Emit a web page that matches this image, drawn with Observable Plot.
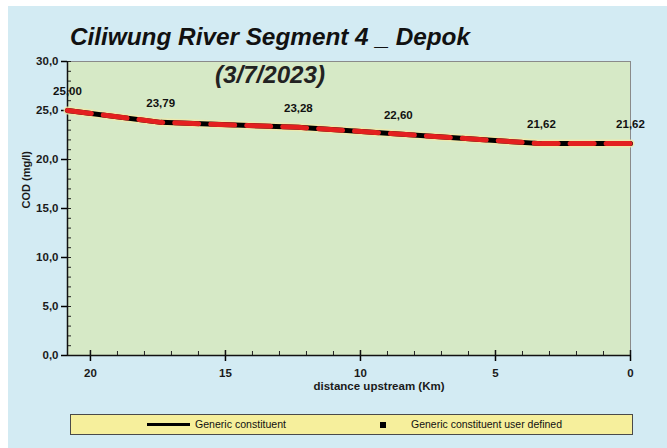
<!DOCTYPE html>
<html>
<head>
<meta charset="utf-8">
<script src="https://cdn.jsdelivr.net/npm/d3@7"></script>
<script src="https://cdn.jsdelivr.net/npm/@observablehq/plot@0.6"></script>
<style>
  html, body { margin: 0; padding: 0; background: #fff; }
  #fig { position: relative; width: 667px; height: 448px; background: #fff; overflow: hidden;
         font-family: "Liberation Sans", Arial, sans-serif; }
  #bg { position: absolute; left: 8px; top: 6px; right: 0; bottom: 0; background: #d3ebf3; }
  #chart { position: absolute; left: 0; top: 0; }
  #title { position: absolute; left: 70px; top: 25px; font-size: 24px; line-height: 24px; font-weight: bold; font-style: italic; color: #111; white-space: nowrap; transform-origin: 0 0; }
  #subtitle { position: absolute; left: 215px; top: 63px; font-size: 24px; line-height: 24px; font-weight: bold; font-style: italic; color: #222; white-space: nowrap; transform-origin: 0 0; }
  #legend { position: absolute; left: 70px; top: 414px; width: 561px; height: 19px; background: #f6ef9c; border: 1.5px solid #4a4a4a;
            font-size: 10px; color: #111; }
  .lg { position: absolute; top: 0; height: 19px; display: flex; align-items: center; white-space: nowrap; }
  .sw-line { display: inline-block; width: 43px; height: 3px; background: #000; margin-right: 5px; }
  .sw-sq { display: inline-block; width: 6px; height: 6px; background: #000; }
  .fit { display: inline-block; transform-origin: 0 50%; }
</style>
</head>
<body>
<div id="fig">
  <div id="bg"></div>
  <div id="chart"></div>
  <div id="title"></div>
  <div id="subtitle"></div>
  <div id="legend">
    <div class="lg" style="left:76px"><span class="sw-line"></span><span id="lg1" class="fit"></span></div>
    <div class="lg" style="left:309px"><span class="sw-sq"></span></div>
    <div class="lg" style="left:340px"><span id="lg2" class="fit"></span></div>
  </div>
</div>
<script>
const titleText = "Ciliwung River Segment 4 _ Depok";
const subtitleText = "(3/7/2023)";
const yLabel = "COD (mg/l)";
const xLabel = "distance upstream (Km)";
const legendLabels = ["Generic constituent", "Generic constituent user defined"];

const distance = [20.85, 17.4, 12.3, 8.6, 3.3, 0];
const cod = [25.00, 23.79, 23.28, 22.60, 21.62, 21.62];

const xMajor = [20, 15, 10, 5, 0];
const xMinor = d3.range(0, 21);
const yMajor = [0, 5, 10, 15, 20, 25, 30];
const yMinor = d3.range(0, 31);

function fitWidth(el, target) {
  const w = el.getBoundingClientRect().width;
  if (w > 0) el.style.transform = `scaleX(${target / w})`;
}

const tEl = document.getElementById("title");
const sEl = document.getElementById("subtitle");
tEl.textContent = titleText;
sEl.textContent = subtitleText;
const l1 = document.getElementById("lg1"), l2 = document.getElementById("lg2");
l1.textContent = legendLabels[0];
l2.textContent = legendLabels[1];
fitWidth(tEl, 400);
fitWidth(sEl, 110);
fitWidth(l1, 91);
fitWidth(l2, 151);

const data = distance.map((d, i) => ({x: d, y: cod[i]}));
const W = 667, H = 448, mL = 67, mR = 37, mT = 61, mB = 93;
const pw = W - mL - mR, ph = H - mT - mB;
const comma = (v, n) => v.toFixed(n).replace(".", ",");
const font = '"Liberation Sans", Arial, sans-serif';

const chart = Plot.plot({
  width: W, height: H,
  marginLeft: mL, marginRight: mR, marginTop: mT, marginBottom: mB,
  style: {background: "transparent", fontFamily: font, overflow: "visible"},
  x: {domain: [20.85, 0]},
  y: {domain: [0, 30]},
  marks: [
    Plot.frame({fill: "#d6e9c6", stroke: "#8a8a8a", strokeWidth: 1}),
    Plot.tickY(yMinor, {y: d => d, insetRight: pw - 4, stroke: "#222"}),
    Plot.tickX(xMinor, {x: d => d, insetTop: ph - 4, stroke: "#222"}),
    Plot.tickX(xMajor, {x: d => d, insetTop: ph - 5, stroke: "#111", strokeWidth: 1.5}),
    Plot.axisY({ticks: yMajor, tickSize: 6, tickFormat: d => comma(d, 1), fontSize: 11.5, fontWeight: "bold", fill: "#1a1a1a", label: null, strokeWidth: 1.5, tickPadding: 3}),
    Plot.axisX({ticks: xMajor, tickSize: 6, tickFormat: d => String(d), fontSize: 11.5, fontWeight: "bold", fill: "#1a1a1a", label: null, strokeWidth: 1.5, tickPadding: 7}),
    Plot.ruleY([0], {stroke: "#111", strokeWidth: 1.5}),
    Plot.ruleX([20.85], {stroke: "#111", strokeWidth: 1.5}),
    Plot.text([yLabel], {frameAnchor: "left", dx: -41, rotate: -90, text: d => d, fontSize: 11, fontWeight: "bold", fill: "#1a1a1a"}),
    Plot.text([xLabel], {frameAnchor: "bottom", dx: 30, dy: 34, text: d => d, fontSize: 11.5, fontWeight: "bold", fill: "#1a1a1a"}),
    Plot.line(data, {x: "x", y: "y", stroke: "#f3e9a8", strokeWidth: 8, strokeOpacity: 0.8}),
    Plot.line(data, {x: "x", y: "y", stroke: "#000", strokeWidth: 5}),
    Plot.line(data, {x: "x", y: "y", stroke: "#e3201f", strokeWidth: 5, strokeDasharray: "24,12"}),
    Plot.text(data, {x: "x", y: "y", text: d => comma(d.y, 2), dy: -19, fontSize: 11.5, fontWeight: "bold", fill: "#111"})
  ]
});
document.getElementById("chart").appendChild(chart);
</script>
</body>
</html>
